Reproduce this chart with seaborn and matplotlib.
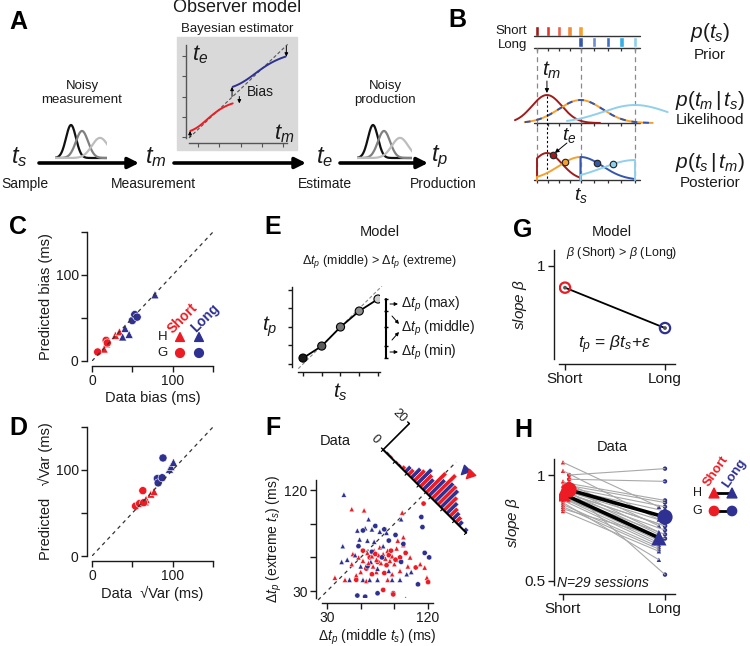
import numpy as np
import pandas as pd
import matplotlib
matplotlib.use("Agg")
import matplotlib.pyplot as plt
import seaborn as sns
from matplotlib.patches import Rectangle, Polygon
from matplotlib.markers import MarkerStyle
from matplotlib.transforms import Affine2D

RED = "#ed1c24"
BLUE = "#2e3192"

# ---------------- data ----------------
# A: noisy kernels (px units inside the small boxes)
meas_mu = [71, 82, 100]
meas_sd = [5.0, 6.1, 8.2]
prod_mu = [373, 384, 400]
prod_sd = [5.0, 6.1, 8.2]
kernel_cols = ["#111111", "#808080", "#bdbdbd"]
# A: Bayesian estimator (ms)
short_range = [480, 800]
long_range = [800, 1200]
weber = 0.1

# B: prior / likelihood / posterior
prior_short = [480, 560, 640, 720, 800]
prior_long = [800, 900, 1000, 1100, 1200]
short_cols = ["#a01c1c", "#e2372b", "#ec5f4c", "#f08b3b", "#f5a02e"]
long_cols = ["#3556ad", "#6f8ccc", "#3f6fc2", "#35aee6", "#90d0ec"]
like_mu = [553, 800, 1200]
like_sd = [110, 160, 240]
like_h = [28, 23, 18]
like_span = [[318, 943], [390, 1330], [700, 1440]]
post_mu = [553, 800, 800, 1200]
post_sd = [110, 160, 160, 240]
post_rng = [[480, 800], [480, 800], [800, 1200], [800, 1200]]
post_h = [27, 23, 23, 20]
post_cols = ["#a01c1c", "#f5a02e", "#3556ad", "#90d0ec"]

# C: bias, data vs predicted (ms)
c_sh_x = [15, 18, 29, 34]
c_sh_y = [14, 20, 30, 34]
c_sg_x = [7, 17.5, 19]
c_sg_y = [10.5, 24, 21]
c_lh_x = [41, 38, 46, 78]
c_lh_y = [38, 28, 31, 77]
c_lg_x = [50, 53, 56]
c_lg_y = [47, 54, 51]

# D: sqrt variance, data vs predicted (ms)
d_sh_x = [66, 67, 73, 77]
d_sh_y = [63, 66, 72, 75]
d_sg_x = [54, 59, 63, 64]
d_sg_y = [58, 61, 76, 62]
d_lh_x = [96, 98, 101]
d_lh_y = [101, 104, 109]
d_lg_x = [88, 81, 82, 87]
d_lg_y = [114, 90, 85, 91]

# E: model tp vs ts
e_ts = [1, 2, 3, 4, 5]
e_tp = [1.32, 1.97, 3.0, 3.86, 4.51]
e_cols = ["#1a1a1a", "#5c5c5c", "#777777", "#8e8e8e", "#cbcbcb"]

# F: delta tp (middle ts) vs delta tp (extreme ts)
f_sh = [(37, 42), (52, 103), (63, 102), (97, 100), (53, 63), (65, 39), (119, 42), (113, 54),
        (93, 75), (98, 71), (98, 78), (104, 60), (117, 51), (52, 54), (46, 40), (84, 40),
        (95, 48), (58, 60), (62, 57), (66, 64), (70, 61), (72, 66), (74, 58), (76, 62),
        (78, 55), (80, 63), (82, 59), (84, 66), (86, 57), (88, 61), (90, 54), (71, 52),
        (67, 55), (77, 69), (92, 68), (60, 47), (74, 47), (102, 52), (56, 44), (88, 45)]
f_sg = [(116, 108), (56, 40), (80, 31), (89, 27), (120, 38), (109, 51), (68, 60), (73, 63),
        (79, 60), (85, 62), (91, 58), (75, 56), (83, 53), (87, 66), (65, 50), (95, 60),
        (70, 45), (100, 64), (62, 66), (81, 46)]
f_lh = [(45, 116), (67, 94), (44, 70), (43, 56), (100, 23), (96, 94), (50, 40), (62, 40),
        (68, 40), (75, 40), (88, 40), (95, 40), (57, 84), (64, 86), (70, 85), (77, 83),
        (83, 82), (59, 76), (66, 75), (72, 74), (55, 62), (48, 58), (60, 52), (75, 50),
        (85, 48), (105, 47), (101, 45), (69, 56), (92, 58), (80, 70)]
f_lg = [(57, 26), (64, 25), (75, 28), (89, 28), (111, 36), (114, 96), (115, 87), (117, 64),
        (121, 60), (91, 80), (96, 56), (62, 84), (73, 88), (81, 85), (58, 70), (85, 75),
        (70, 65), (79, 60), (66, 52), (98, 72)]
hist_red = [0, 1, 1, 2, 4, 8, 9, 15, 18, 14, 10, 6, 4, 0]
hist_blue = [1, 0, 1, 4, 7, 11, 8, 12, 14, 13, 8, 5, 3, 2]
hist_d_range = [76, -72]
hist_mean_d = {"Short": -23, "Long": -15}
hist_mean_n = 23

# G: model slopes
g_beta = [0.88, 0.657]
g_labels = ["Short", "Long"]

# H: slopes per session
h_short = [1.06, 1.02, 0.97, 0.95, 0.93, 0.91, 0.90, 0.89, 0.88, 0.87, 0.86, 0.85, 0.84, 0.83, 0.90]
h_long = [0.85, 0.79, 0.76, 0.73, 0.72, 0.70, 0.69, 0.68, 0.67, 0.60, 0.66, 0.65, 0.71, 0.64, 0.70]
g_short = [1.00, 0.98, 0.96, 0.95, 0.94, 0.93, 0.92, 0.92, 0.91, 0.90, 0.89, 0.88, 0.93, 0.91]
g_long = [1.03, 0.97, 0.88, 0.87, 0.85, 0.83, 0.80, 0.78, 0.76, 0.74, 0.72, 0.70, 0.53, 0.76]

# ---------------- style ----------------
sns.set_style("ticks")
plt.rcParams["font.family"] = ["Liberation Sans", "DejaVu Sans"]
plt.rcParams["mathtext.fontset"] = "custom"
plt.rcParams["mathtext.it"] = "Liberation Sans:italic"
plt.rcParams["mathtext.rm"] = "Liberation Sans"
plt.rcParams["mathtext.sf"] = "Liberation Sans"
plt.rcParams["mathtext.bf"] = "Liberation Sans:bold"
plt.rcParams["axes.facecolor"] = "none"
plt.rcParams["axes.edgecolor"] = "#1a1a1a"
plt.rcParams["text.color"] = "#1a1a1a"
plt.rcParams["axes.labelcolor"] = "#1a1a1a"

W, H = 750, 646
fig = plt.figure(figsize=(7.5, 6.46), dpi=100)


def px_axes(l, t, w, h):
    return fig.add_axes([l / W, 1 - (t + h) / H, w / W, h / H])


ov = px_axes(0, 0, W, H)
ov.set_xlim(0, W)
ov.set_ylim(H, 0)
ov.axis("off")


def txt(x, y, s, size=10, **kw):
    ov.text(x, y, s, fontsize=size, ha=kw.pop("ha", "center"), va=kw.pop("va", "center"), **kw)


def style_ax(ax, left_px, bottom_px, ls=10):
    sns.despine(ax=ax, offset={"left": left_px * 0.72, "bottom": bottom_px * 0.72})
    ax.tick_params(direction="out", length=4, width=1, labelsize=ls, colors="#1a1a1a", pad=2)
    for s in ax.spines.values():
        s.set_linewidth(1)


for letter, (x, y) in {"A": (18, 22), "B": (457, 20), "C": (18, 227), "D": (18, 428),
                       "E": (273, 227), "F": (273, 428), "G": (523, 230), "H": (523, 430)}.items():
    txt(x, y, letter, 18, fontweight="bold", color="k")

# ---------------- A ----------------
ov.add_patch(Rectangle((177, 37), 120, 113, color="#d9d9d9", zorder=0))
txt(237, 8, "Observer model", 13)
txt(237, 29, "Bayesian estimator", 9.5)
txt(82, 86, "Noisy", 9.5)
txt(82, 100, "measurement", 9.5)
txt(385, 86, "Noisy", 9.5)
txt(385, 100, "production", 9.5)
for x, s in [(19, r"$t_s$"), (156, r"$t_m$"), (325, r"$t_e$"), (440, r"$t_p$")]:
    txt(x, 157, s, 17)
txt(1, 184, "Sample", 10, ha="left")
for x, s in [(153, "Measurement"), (325, "Estimate"), (443, "Production")]:
    txt(x, 184, s, 10)
for x0, x1 in [(39, 139), (174, 306), (340, 428)]:
    ov.annotate("", xy=(x1, 163), xytext=(x0, 163),
                arrowprops=dict(arrowstyle="-|>", color="k", lw=2.6, mutation_scale=16,
                                shrinkA=0, shrinkB=0))


def kernels(l, r, mus, sds):
    ax = px_axes(l, 118, r - l, 42)
    ax.set_xlim(l, r)
    ax.set_ylim(160, 118)
    ax.axis("off")
    xs = np.linspace(l - 20, r + 20, 300)
    for mu, sd, c in zip(mus, sds, kernel_cols):
        ax.plot(xs, 158 - 165 / sd * np.exp(-(xs - mu) ** 2 / (2 * sd ** 2)), color=c, lw=1.6)


kernels(55, 107, meas_mu, meas_sd)
kernels(357, 412, prod_mu, prod_sd)


def bls(tm, lo, hi, w):
    ts = np.linspace(lo, hi, 500)
    like = np.exp(-(tm[:, None] - ts[None, :]) ** 2 / (2 * (w * ts[None, :]) ** 2)) / (w * ts[None, :])
    return (like * ts).sum(1) / like.sum(1)


ba = px_axes(189, 45, 98, 93)
ba.set_xlim(470, 1210)
ba.set_ylim(470, 1210)
tm_s = np.linspace(*short_range, 80)
tm_l = np.linspace(*long_range, 80)
te_s = bls(tm_s, *short_range, weber)
te_l = bls(tm_l, *long_range, weber)
ba.plot([470, 1215], [470, 1215], color="#555555", ls=(0, (3, 2)), lw=0.8, clip_on=False)
sns.lineplot(x=tm_s, y=te_s, color=RED, lw=1.4, ax=ba)
sns.lineplot(x=tm_l, y=te_l, color=BLUE, lw=1.4, ax=ba)
for x, y0, y1 in [(478, 480, te_s[0]), (795, 800, te_l[0]), (850, 800, te_s[-1]), (1205, 1200, te_l[-1])]:
    ba.annotate("", xy=(x, y1), xytext=(x, y0),
                arrowprops=dict(arrowstyle="-|>", color="k", lw=0.7, mutation_scale=5,
                                shrinkA=0, shrinkB=0))
ba.set_xticks([540, 700, 860, 1020, 1180])
ba.set_yticks([480, 640, 800, 960, 1120])
ba.set_xticklabels([])
ba.set_yticklabels([])
sns.despine(ax=ba, offset={"left": 2, "bottom": 3.6})
ba.tick_params(length=3, width=0.8, colors="#555555")
for s in ba.spines.values():
    s.set_color("#555555")
    s.set_linewidth(1)
txt(260, 92, "Bias", 10)
txt(200, 55, r"$t_e$", 16)
txt(284, 134, r"$t_m$", 16)

# ---------------- B ----------------
PXMS = 98 / 720
bx = px_axes(505, 18, 165, 185)
bx.set_xlim(480 - 32 / PXMS, 480 + 133 / PXMS)
bx.set_ylim(203, 18)
bx.axis("off")
bw = 4.5 / PXMS
bx.bar(prior_short, 10, bottom=26, width=bw, color=short_cols)
bx.bar(prior_long, 10, bottom=37, width=bw, color=long_cols)
all_ts = sorted(set(prior_short + prior_long))
for yb in [48, 123, 180]:
    bx.plot([455, 1240], [yb, yb], color="#333333", lw=1)
    bx.vlines(all_ts, yb, yb + 3, color="#333333", lw=0.9)
bx.plot([455, 1240], [36, 36], color="#333333", lw=1)
bx.vlines([480, 800, 1200], 48, 180, colors="#8a8a8a", linestyles=(0, (4, 3)), lw=0.9)
for i, (mu, sd, hh, (lo, hi)) in enumerate(zip(like_mu, like_sd, like_h, like_span)):
    t = np.linspace(lo, hi, 300)
    y = 123 - hh * np.exp(-(t - mu) ** 2 / (2 * sd ** 2))
    if i == 0:
        bx.plot(t, y, color=post_cols[0], lw=1.4)
    elif i == 1:
        bx.plot(t, y, color=post_cols[1], lw=1.4)
        bx.plot(t, y, color=post_cols[2], lw=1.4, ls=(0, (3, 3)))
    else:
        bx.plot(t, y, color=post_cols[3], lw=1.4)
bx.plot([553, 553], [96, 180], color="k", ls=(0, (2, 2)), lw=0.8)
bx.annotate("", xy=(553, 93), xytext=(553, 81),
            arrowprops=dict(arrowstyle="-|>", color="k", lw=0.7, mutation_scale=6, shrinkA=0, shrinkB=0))
bx.text(585, 70, r"$t_m$", fontsize=15, ha="center", va="center")
te_pts = []
for mu, sd, (lo, hi), hh, c in zip(post_mu, post_sd, post_rng, post_h, post_cols):
    t = np.linspace(lo, hi, 300)
    g = np.exp(-(t - mu) ** 2 / (2 * sd ** 2))
    y = 180 - hh * g / g.max()
    bx.plot(np.r_[lo, t, hi], np.r_[180, y, 180], color=c, lw=1.4)
    te = (t * g).sum() / g.sum()
    yte = 180 - hh * np.interp(te, t, g) / g.max()
    te_pts.append((te, yte))
    bx.scatter([te], [yte], s=22, color=c, edgecolor="#222222", linewidth=0.8, zorder=5)
bx.annotate("", xy=(te_pts[0][0] + 15, te_pts[0][1] - 2), xytext=(700, 143),
            arrowprops=dict(arrowstyle="-|>", color="k", lw=0.7, mutation_scale=6, shrinkA=0, shrinkB=0))
bx.text(715, 135, r"$t_e$", fontsize=14, ha="center", va="center")
bx.text(800, 195, r"$t_s$", fontsize=14, ha="center", va="center")
txt(527, 31, "Short", 9.5, ha="right")
txt(527, 45, "Long", 9.5, ha="right")
txt(710, 32, r"$p(t_s)$", 15)
txt(710, 55, "Prior", 11)
txt(710, 100, r"$p(t_m\,|\,t_s)$", 15)
txt(710, 120, "Likelihood", 11)
txt(710, 162, r"$p(t_s\,|\,t_m)$", 15)
txt(710, 183, "Posterior", 11)


# ---------------- C & D ----------------
def build(sh_x, sh_y, sg_x, sg_y, lh_x, lh_y, lg_x, lg_y):
    parts = []
    for xs, ys, p, m in [(sh_x, sh_y, "Short", "H"), (sg_x, sg_y, "Short", "G"),
                         (lh_x, lh_y, "Long", "H"), (lg_x, lg_y, "Long", "G")]:
        parts.append(pd.DataFrame({"x": xs, "y": ys, "prior": p, "monkey": m}))
    return pd.concat(parts, ignore_index=True)


pal = {"Short": RED, "Long": BLUE}
mk = {"H": "^", "G": "o"}
for top, df, xl, yl in [
    (232, build(c_sh_x, c_sh_y, c_sg_x, c_sg_y, c_lh_x, c_lh_y, c_lg_x, c_lg_y),
     "Data bias (ms)", "Predicted bias (ms)"),
    (427, build(d_sh_x, d_sh_y, d_sg_x, d_sg_y, d_lh_x, d_lh_y, d_lg_x, d_lg_y),
     "Data  \u221aVar (ms)", "Predicted   \u221aVar (ms)")]:
    ax = px_axes(92, top, 121, 129)
    ax.plot([0, 150], [0, 150], color="#333333", ls=(0, (3, 3)), lw=0.9)
    sns.scatterplot(data=df, x="x", y="y", hue="prior", style="monkey", palette=pal, markers=mk,
                    s=34, edgecolor="white", linewidth=0.4, legend=False, ax=ax)
    ax.set_xlim(0, 150)
    ax.set_ylim(0, 150)
    ax.set_xticks([0, 50, 100, 150])
    ax.set_xticklabels(["0", "", "100", ""])
    ax.set_yticks([0, 50, 100, 150])
    ax.set_yticklabels(["0", "", "100", ""])
    style_ax(ax, 5, 5)
    ax.set_xlabel(xl, fontsize=10.5, labelpad=2)
    ax.set_ylabel(yl, fontsize=10.5, labelpad=2)

txt(183, 318, "Short", 10, color=RED, rotation=45, fontweight="bold")
txt(205, 318, "Long", 10, color=BLUE, rotation=45, fontweight="bold")
txt(163, 337, "H", 9.5)
txt(163, 353, "G", 9.5)
ov.scatter([180, 199], [337, 337], marker="^", s=40, c=[RED, BLUE])
ov.scatter([180, 199], [353, 353], marker="o", s=40, c=[RED, BLUE])

# ---------------- E ----------------
ex = px_axes(298, 287, 82, 80)
ex.plot([0.75, 5.2], [0.75, 5.2], color="#888888", ls=(0, (3, 2)), lw=0.8, clip_on=False)
sns.lineplot(x=e_ts, y=e_tp, color="k", lw=1.3, ax=ex)
ex.scatter(e_ts, e_tp, s=34, c=e_cols, edgecolor="k", linewidth=0.8, zorder=5)
ex.set_xlim(0.733, 5.107)
ex.set_ylim(0.838, 5.16)
ex.set_xticks(e_ts)
ex.set_yticks(e_ts)
ex.set_xticklabels([])
ex.set_yticklabels([])
style_ax(ex, 6, 5)
ex.tick_params(length=3)
ex.plot([5.43, 5.43], [min(e_tp), max(e_tp)], color="k", lw=1.5, clip_on=False)
ex.hlines(e_tp, 5.33, 5.53, color="k", lw=1, clip_on=False)
txt(380, 232, "Model", 10.5)
txt(380, 262, r"$\Delta t_p$ (middle) > $\Delta t_p$ (extreme)", 9)
txt(270, 327, r"$t_p$", 15)
txt(340, 392, r"$t_s$", 15)
for (x0, y0), (x1, y1) in [((390, 304), (398, 304)), ((392, 316), (399, 324)),
                           ((392, 340), (399, 332)), ((390, 352), (398, 352))]:
    ov.annotate("", xy=(x1, y1), xytext=(x0, y0),
                arrowprops=dict(arrowstyle="-|>", color="k", lw=0.7, mutation_scale=5, shrinkA=0, shrinkB=0))
txt(401, 304, r"$\Delta t_p$ (max)", 10, ha="left")
txt(401, 328, r"$\Delta t_p$ (middle)", 10, ha="left")
txt(401, 352, r"$\Delta t_p$ (min)", 10, ha="left")

# ---------------- F ----------------
fx = px_axes(322, 480, 111, 118)
fx.plot([22, 145], [22, 145], color="#333333", ls=(0, (3, 3)), lw=0.9, clip_on=False, zorder=1)
fdf = pd.concat([pd.DataFrame(pts, columns=["x", "y"]).assign(prior=p, monkey=m)
                 for pts, p, m in [(f_sh, "Short", "H"), (f_sg, "Short", "G"),
                                   (f_lh, "Long", "H"), (f_lg, "Long", "G")]], ignore_index=True)
fdf = fdf.iloc[np.argsort(np.arange(len(fdf)) % 3, kind="stable")]
sns.scatterplot(data=fdf, x="x", y="y", hue="prior", style="monkey", palette=pal, markers=mk,
                s=14, edgecolor="white", linewidth=0.3, legend=False, ax=fx)
fx.set_xlim(25.5, 124.4)
fx.set_ylim(23.8, 129)
fx.set_xticks([30, 60, 90, 120])
fx.set_xticklabels(["30", "", "", "120"])
fx.set_yticks([30, 60, 90, 120])
fx.set_yticklabels(["30", "", "", "120"])
style_ax(fx, 6, 5)
fx.set_xlabel(r"$\Delta t_p$ (middle $t_s$) (ms)", fontsize=10, labelpad=2)
fx.set_ylabel(r"$\Delta t_p$ (extreme $t_s$) (ms)", fontsize=10, labelpad=0)
txt(335, 441, "Data", 10.5)

S2 = 118.0
kc = 23.3 / 20


def base_pt(d):
    return np.array([S2 - d / 2, S2 + d / 2])


edges = np.linspace(hist_d_range[0], hist_d_range[1], len(hist_red) + 1)
for i, (nr, nb) in enumerate(zip(hist_red, hist_blue)):
    d0, d1 = edges[i], edges[i + 1]
    dm = (d0 + d1) / 2
    for (a, b), n, c in [((d0, dm), nr, RED), ((dm, d1), nb, BLUE)]:
        if n == 0:
            continue
        p0, p1 = base_pt(a), base_pt(b)
        off = np.array([kc * n, kc * n])
        fx.add_patch(Polygon([p0, p1, p1 + off, p0 + off], closed=True, facecolor=c,
                             edgecolor="white", lw=0.3, clip_on=False, zorder=3))
b0, b1 = base_pt(hist_d_range[0]), base_pt(hist_d_range[1])
fx.plot([b0[0], b1[0]], [b0[1], b1[1]], color="k", lw=1.5, clip_on=False, zorder=4)
for d in edges[::2]:
    p = base_pt(d)
    fx.plot([p[0], p[0] - 1.6], [p[1], p[1] - 1.6], color="k", lw=0.8, clip_on=False)
top = b0 + np.array([kc * 20, kc * 20])
fx.plot([b0[0], top[0]], [b0[1], top[1]], color="k", lw=1.2, clip_on=False)
for p in [b0, top]:
    fx.plot([p[0], p[0] - 1.5], [p[1], p[1] + 1.5], color="k", lw=1, clip_on=False)
fx.text(b0[0] - 7, b0[1] + 9, "0", fontsize=9, rotation=-45, ha="center", va="center")
fx.text(top[0] - 9, top[1] + 7, "20", fontsize=9, rotation=-45, ha="center", va="center")
for p, c in [("Long", BLUE), ("Short", RED)]:
    pt = base_pt(hist_mean_d[p]) + np.array([kc * hist_mean_n, kc * hist_mean_n])
    fx.scatter([pt[0]], [pt[1]], marker=MarkerStyle("v", transform=Affine2D().rotate_deg(-45)),
               s=40, color=c, clip_on=False, zorder=6)

# ---------------- G ----------------
gx = px_axes(559, 250, 116, 109)
sns.lineplot(x=[0, 1], y=g_beta, color="k", lw=1.3, ax=gx)
gx.scatter([0, 1], g_beta, s=55, facecolor="none", edgecolor=[RED, BLUE], linewidth=1.6, zorder=5)
gx.scatter([0, 1], g_beta, s=3, color=["#555555", "#555555"], zorder=6)
gx.set_xlim(-0.06, 1.1)
gx.set_ylim(0.486, 1.088)
gx.set_xticks([0, 1])
gx.set_xticklabels(g_labels)
gx.set_yticks([1])
gx.set_yticklabels(["1"])
style_ax(gx, 5, 5, ls=11)
gx.set_ylabel(r"$slope\ \beta$", fontsize=11, labelpad=6)
txt(612, 232, "Model", 10.5)
txt(622, 253, r"$\beta$ (Short) > $\beta$ (Long)", 9)
txt(615, 345, r"$t_p$ = $\beta t_s$+$\varepsilon$", 12.5)

# ---------------- H ----------------
rows = []
for mon, sh, lo, xs, xl in [("H", h_short, h_long, 0.0, 0.94), ("G", g_short, g_long, 0.06, 1.0)]:
    for i, (a, b) in enumerate(zip(sh, lo)):
        rows.append((f"{mon}{i}", mon, "Short", a, xs))
        rows.append((f"{mon}{i}", mon, "Long", b, xl))
hdf = pd.DataFrame(rows, columns=["session", "monkey", "prior", "beta", "x"])
hx = px_axes(559, 459, 116, 126)
sns.lineplot(data=hdf, x="x", y="beta", units="session", estimator=None, color="#a8a8a8",
             lw=0.8, ax=hx)
for mon in ["H", "G"]:
    sns.lineplot(data=hdf[hdf.monkey == mon], x="x", y="beta", estimator="mean", errorbar=None,
                 color="k", lw=2.6, ax=hx)
sns.scatterplot(data=hdf, x="x", y="beta", hue="prior", style="monkey", palette=pal, markers=mk,
                s=10, linewidth=0, legend=False, ax=hx)
means = hdf.groupby(["monkey", "prior", "x"], as_index=False)["beta"].mean()
sns.scatterplot(data=means, x="x", y="beta", hue="prior", style="monkey", palette=pal, markers=mk,
                s=120, linewidth=0, legend=False, ax=hx, zorder=6)
hx.set_xlim(-0.039, 1.098)
hx.set_ylim(0.481, 1.0755)
hx.set_xticks([0, 1])
hx.set_xticklabels(g_labels)
hx.set_yticks([0.5, 1])
hx.set_yticklabels(["0.5", "1"])
style_ax(hx, 5, 9, ls=11)
hx.set_xlabel("")
hx.set_ylabel(r"$slope\ \beta$", fontsize=11, labelpad=2)
txt(612, 447, "Data", 10.5)
txt(603, 583, "N=29 sessions", 10, style="italic")
txt(716, 471, "Short", 9.5, color=RED, rotation=55, fontweight="bold")
txt(734, 473, "Long", 9.5, color=BLUE, rotation=55, fontweight="bold")
txt(697, 493, "H", 9)
txt(697, 511, "G", 9)
ov.plot([714, 732], [493, 493], color="k", lw=2)
ov.plot([714, 732], [511, 511], color="k", lw=2)
ov.scatter([714, 732], [493, 493], marker="^", s=50, c=[RED, BLUE], zorder=5)
ov.scatter([714, 732], [511, 511], marker="o", s=45, c=[RED, BLUE], zorder=5)

fig.savefig("out.png", dpi=100)
